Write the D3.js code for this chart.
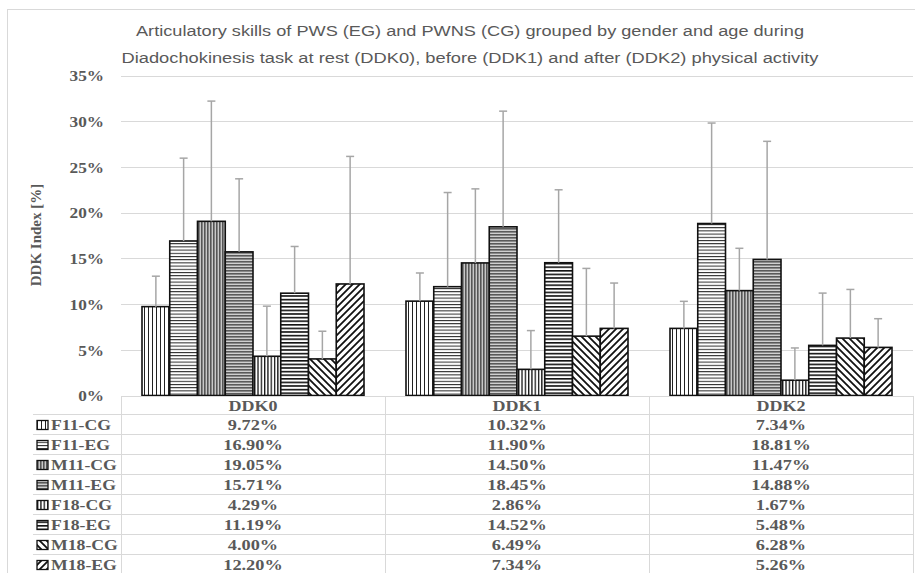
<!DOCTYPE html>
<html><head><meta charset="utf-8">
<script src="https://cdn.jsdelivr.net/npm/d3@7"></script>
<style>
html,body{margin:0;padding:0;background:#fff;}
svg{display:block;}
</style></head>
<body>
<svg id="chart" width="915" height="573"></svg>
<script>
// ---- data ----
const categories = ["DDK0", "DDK1", "DDK2"];
const seriesNames = ["F11-CG", "F11-EG", "M11-CG", "M11-EG", "F18-CG", "F18-EG", "M18-CG", "M18-EG"];
const F11_CG = [9.72, 10.32, 7.34];
const F11_EG = [16.90, 11.90, 18.81];
const M11_CG = [19.05, 14.50, 11.47];
const M11_EG = [15.71, 18.45, 14.88];
const F18_CG = [4.29, 2.86, 1.67];
const F18_EG = [11.19, 14.52, 5.48];
const M18_CG = [4.00, 6.49, 6.28];
const M18_EG = [12.20, 7.34, 5.26];
// upward error bar lengths (SD, estimated)
const F11_CG_err = [3.33, 3.08, 2.96];
const F11_EG_err = [9.06, 10.30, 10.99];
const M11_CG_err = [13.15, 8.10, 4.63];
const M11_EG_err = [7.99, 12.65, 12.92];
const F18_CG_err = [5.48, 4.24, 3.53];
const F18_EG_err = [5.11, 7.98, 5.72];
const M18_CG_err = [3.03, 7.41, 5.32];
const M18_EG_err = [13.95, 4.96, 3.14];
const yTicks = [0, 5, 10, 15, 20, 25, 30, 35];
const titleLines = [
  "Articulatory skills of PWS (EG) and PWNS (CG) grouped by gender and age during",
  "Diadochokinesis task at rest (DDK0), before (DDK1) and after (DDK2) physical activity"
];
const yLabel = "DDK Index [%]";

const values = [F11_CG, F11_EG, M11_CG, M11_EG, F18_CG, F18_EG, M18_CG, M18_EG];
const errors = [F11_CG_err, F11_EG_err, M11_CG_err, M11_EG_err, F18_CG_err, F18_EG_err, M18_CG_err, M18_EG_err];

// ---- layout ----
const svg = d3.select("#chart");
const plotL = 121, plotR = 913, plotT = 75.5, plotB = 395.5;
const textGray = "#595959";
const gridGray = "#d9d9d9";
const serif = "'Liberation Serif','Times New Roman',serif";

// outer border
svg.append("rect").attr("x", 7.5).attr("y", 9.5).attr("width", 920).attr("height", 580)
  .attr("fill", "none").attr("stroke", "#d9d9d9").attr("stroke-width", 1);

// stretch helper (reference text is horizontally stretched)
function stretch(sel, k) {
  sel.each(function() {
    const len = this.getComputedTextLength();
    d3.select(this).attr("textLength", len * k).attr("lengthAdjust", "spacingAndGlyphs");
  });
}

// ---- patterns ----
const defs = svg.append("defs");
function pat(id, w, h, draw) {
  const p = defs.append("pattern").attr("id", id).attr("patternUnits", "userSpaceOnUse")
    .attr("width", w).attr("height", h);
  p.append("rect").attr("width", w).attr("height", h).attr("fill", "#fff");
  draw(p);
}
pat("p0", 4, 4, p => p.append("rect").attr("x", 0).attr("y", 0).attr("width", 1).attr("height", 4).attr("fill", "#222"));
pat("p1", 4, 3.2, p => p.append("rect").attr("x", 0).attr("y", 0).attr("width", 4).attr("height", 1).attr("fill", "#222"));
pat("p2", 3, 4, p => { p.append("rect").attr("width", 3).attr("height", 4).attr("fill", "#c8c8c8");
  p.append("rect").attr("x", 0).attr("width", 1.6).attr("height", 4).attr("fill", "#555"); });
pat("p3", 4, 3, p => { p.append("rect").attr("width", 4).attr("height", 3).attr("fill", "#d0d0d0");
  p.append("rect").attr("y", 0).attr("width", 4).attr("height", 1.6).attr("fill", "#5a5a5a"); });
pat("p4", 3.3, 4, p => p.append("rect").attr("x", 0).attr("y", 0).attr("width", 1.3).attr("height", 4).attr("fill", "#111"));
pat("p5", 4, 3.6, p => p.append("rect").attr("x", 0).attr("y", 0).attr("width", 4).attr("height", 1.6).attr("fill", "#111"));
pat("p6", 7, 7, p => {
  p.append("path").attr("d", "M-1,-1 L8,8 M-4,3 L4,11 M3,-4 L11,4").attr("stroke", "#111").attr("stroke-width", 1.8);
});
pat("p7", 7, 7, p => {
  p.append("path").attr("d", "M-1,8 L8,-1 M-4,4 L4,-4 M3,11 L11,3").attr("stroke", "#111").attr("stroke-width", 1.8);
});

// ---- scales ----
const y = d3.scaleLinear().domain([0, 35]).range([plotB, plotT]);
const x0 = d3.scaleBand().domain(categories).range([plotL, plotR]).padding(0);
const bw = x0.bandwidth();
const x1 = d3.scaleBand().domain(seriesNames).range([21, bw - 21]).padding(0);

// gridlines
svg.append("g").selectAll("line").data(yTicks.filter(d => d > 0)).join("line")
  .attr("x1", plotL).attr("x2", plotR)
  .attr("y1", d => Math.round(y(d)) + 0.5).attr("y2", d => Math.round(y(d)) + 0.5)
  .attr("stroke", gridGray).attr("stroke-width", 1);

// y axis tick labels
const yAxis = d3.axisLeft(y).tickValues(yTicks).tickFormat(d => d + "%").tickSize(0).tickPadding(0);
const yg = svg.append("g").attr("transform", `translate(104,0)`).call(yAxis);
yg.select(".domain").remove();
yg.selectAll("text").attr("font-family", serif).attr("font-weight", "bold").attr("font-size", 15)
  .attr("fill", textGray).attr("dy", "0.35em");
stretch(yg.selectAll("text"), 1.15);

// y label
svg.append("text").attr("transform", `translate(41,235) rotate(-90)`).attr("text-anchor", "middle")
  .attr("font-family", serif).attr("font-weight", "bold").attr("font-size", 15).attr("fill", textGray)
  .text(yLabel);

// title
const titleY = [31, 58];
const titleW = [668, 697];
titleLines.forEach((t, i) => {
  svg.append("text").attr("x", 470).attr("y", titleY[i]).attr("dy", "0.35em").attr("text-anchor", "middle")
    .attr("font-family", "'Liberation Sans','Open Sans',sans-serif").attr("font-size", 15.5)
    .attr("fill", textGray).attr("textLength", titleW[i]).attr("lengthAdjust", "spacingAndGlyphs").text(t);
});

// ---- bars ----
const flat = [];
categories.forEach((c, ci) => seriesNames.forEach((s, si) => flat.push({ c, s, si, v: values[si][ci], e: errors[si][ci] })));

const bars = svg.append("g");
bars.selectAll("rect").data(flat).join("rect")
  .attr("x", d => x0(d.c) + x1(d.s))
  .attr("y", d => y(d.v))
  .attr("width", x1.bandwidth())
  .attr("height", d => y(0) - y(d.v))
  .attr("fill", d => `url(#p${d.si})`)
  .attr("stroke", "#111").attr("stroke-width", 1.6);

// error bars
const eg = svg.append("g").attr("stroke", "#a6a6a6").attr("stroke-width", 1.5);
eg.selectAll("line.v").data(flat).join("line").attr("class", "v")
  .attr("x1", d => x0(d.c) + x1(d.s) + x1.bandwidth() / 2)
  .attr("x2", d => x0(d.c) + x1(d.s) + x1.bandwidth() / 2)
  .attr("y1", d => y(d.v)).attr("y2", d => y(d.v + d.e));
eg.selectAll("line.c").data(flat).join("line").attr("class", "c")
  .attr("x1", d => x0(d.c) + x1(d.s) + x1.bandwidth() / 2 - 4)
  .attr("x2", d => x0(d.c) + x1(d.s) + x1.bandwidth() / 2 + 4)
  .attr("y1", d => y(d.v + d.e)).attr("y2", d => y(d.v + d.e));

// ---- data table ----
const tableTop = 396, headH = 18, rowH = 20, legL = 33;
const tg = svg.append("g");
// horizontal lines
tg.append("line").attr("x1", plotL).attr("x2", plotR).attr("y1", tableTop + 0.5).attr("y2", tableTop + 0.5)
  .attr("stroke", gridGray);
tg.selectAll("line.h").data(d3.range(seriesNames.length + 1)).join("line").attr("class", "h")
  .attr("x1", legL).attr("x2", plotR)
  .attr("y1", i => tableTop + headH + i * rowH + 0.5).attr("y2", i => tableTop + headH + i * rowH + 0.5)
  .attr("stroke", gridGray);
// vertical lines
tg.selectAll("line.vv").data([plotL, ...categories.map(c => x0(c) + bw)]).join("line").attr("class", "vv")
  .attr("x1", d => d + 0.5).attr("x2", d => d + 0.5).attr("y1", tableTop).attr("y2", 573)
  .attr("stroke", gridGray);
// header
const hdr = tg.selectAll("text.hd").data(categories).join("text").attr("class", "hd")
  .attr("x", c => x0(c) + bw / 2).attr("y", tableTop + headH / 2 + 1).attr("dy", "0.35em")
  .attr("text-anchor", "middle").attr("font-family", serif).attr("font-weight", "bold").attr("font-size", 15)
  .attr("fill", textGray).text(c => c);
stretch(hdr, 1.2);
// cells
const cells = tg.selectAll("text.cell").data(flat).join("text").attr("class", "cell")
  .attr("x", d => x0(d.c) + bw / 2).attr("y", d => tableTop + headH + d.si * rowH + rowH / 2 + 1).attr("dy", "0.35em")
  .attr("text-anchor", "middle").attr("font-family", serif).attr("font-weight", "bold").attr("font-size", 15)
  .attr("fill", textGray).text(d => d.v.toFixed(2) + "%");
stretch(cells, 1.22);
// legend keys + labels
const lg = tg.selectAll("g.lk").data(seriesNames).join("g").attr("class", "lk")
  .attr("transform", (s, i) => `translate(${legL + 4},${tableTop + headH + i * rowH + rowH / 2 + 1})`);
lg.append("rect").attr("x", 0).attr("y", -4.5).attr("width", 11).attr("height", 9)
  .attr("fill", (s, i) => `url(#p${i})`).attr("stroke", "#111").attr("stroke-width", 1.3);
const lt = lg.append("text").attr("x", 14).attr("dy", "0.35em").attr("font-family", serif).attr("font-weight", "bold")
  .attr("font-size", 15).attr("fill", textGray).text(s => s);
stretch(lt, 1.18);
</script>
</body></html>
